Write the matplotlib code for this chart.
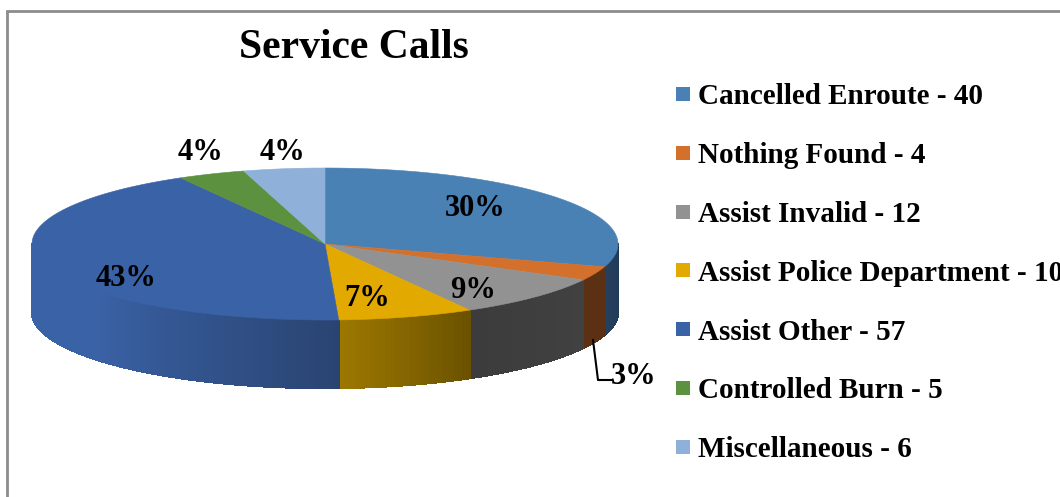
import numpy as np
import matplotlib
matplotlib.use('Agg')
import matplotlib.pyplot as plt
from matplotlib.colors import to_rgb
from matplotlib.patches import Rectangle

plt.rcParams['font.family'] = ['Liberation Serif', 'DejaVu Serif']

# data
categories = ['Cancelled Enroute', 'Nothing Found', 'Assist Invalid', 'Assist Police Department',
              'Assist Other', 'Controlled Burn', 'Miscellaneous']
calls = [40, 4, 12, 10, 57, 5, 6]
title = 'Service Calls'

# colours: top face, wall start, wall end (walking clockwise round the pie)
top_colors = ['#4a81b5', '#d2702c', '#929292', '#e2a900', '#3a62a6', '#5c9140', '#8fb0d8']
wall_start = ['#1f3a58', '#5c3012', '#414141', '#6b5200', '#2a4472', '#5c9140', '#8fb0d8']
wall_end = ['#263f5e', '#5c3012', '#3c3c3c', '#9c7700', '#3a62a6', '#5c9140', '#8fb0d8']

# pie geometry in pixels
cx, cy = 325, 244
rx, ry = 293, 76
depth = 68

# where each percent label goes, same order as categories
label_x = [475, 634, 473, 367, 126, 200, 282]
label_y = [209, 376, 290, 299, 279, 152, 152]

fig = plt.figure(figsize=(10.6, 4.97), dpi=100)
ax = fig.add_axes([0, 0, 1, 1])
ax.set_xlim(0, 1060)
ax.set_ylim(497, 0)
ax.axis('off')

# frame, runs off the right and bottom of the picture
ax.plot([6.5, 6.5, 1060], [497, 10.5, 10.5], color='#8c8c8c', lw=2, solid_joinstyle='miter')

values = np.array(calls, dtype=float)
total = values.sum()
edges = np.concatenate([[0], np.cumsum(values)]) / total * 2 * np.pi

# side wall, only the front half shows
for i in range(len(values)):
    lo = max(edges[i], np.pi / 2)
    hi = min(edges[i + 1], 3 * np.pi / 2)
    if hi <= lo:
        continue
    steps = np.linspace(lo, hi, max(2, int((hi - lo) * 60)))
    c0 = np.array(to_rgb(wall_start[i]))
    c1 = np.array(to_rgb(wall_end[i]))
    for j in range(len(steps) - 1):
        a, b = steps[j], steps[j + 1]
        f = j / max(1, len(steps) - 2)
        # the big blue slice keeps its light colour over the left part
        if i == 4:
            f = min(1, f * 1.7)
        col = c0 + (c1 - c0) * f
        xs = cx + rx * np.sin([a, b, b, a])
        ys = cy - ry * np.cos([a, b, b, a]) + np.array([0, 0, depth, depth])
        ax.fill(xs, ys, color=col, lw=1, antialiased=False, zorder=2)

# top face
for i in range(len(values)):
    th = np.linspace(edges[i], edges[i + 1], 120)
    xs = np.concatenate([[cx], cx + rx * np.sin(th)])
    ys = np.concatenate([[cy], cy - ry * np.cos(th)])
    ax.fill(xs, ys, color=top_colors[i], lw=0.4, zorder=3)

# percent labels
for i in range(len(values)):
    pct = int(round(values[i] / total * 100))
    ax.text(label_x[i], label_y[i], '%d%%' % pct, fontsize=22, fontweight='bold',
            ha='center', va='center', color='black', zorder=5)

# leader line for the small slice
ax.plot([593, 598, 612], [340, 380, 380], color='black', lw=1.5, zorder=4)

ax.text(354, 48, title, fontsize=30, fontweight='bold', ha='center', va='center', color='black')

# legend
for i in range(len(categories)):
    y = 94 + i * 58.8
    ax.add_patch(Rectangle((676, y - 7), 14, 14, facecolor=top_colors[i], edgecolor='none'))
    ax.text(698, y + 3, '%s - %d' % (categories[i], calls[i]), fontsize=21, fontweight='bold',
            ha='left', va='center', color='black', clip_on=True)

fig.savefig('out.png', dpi=100)
